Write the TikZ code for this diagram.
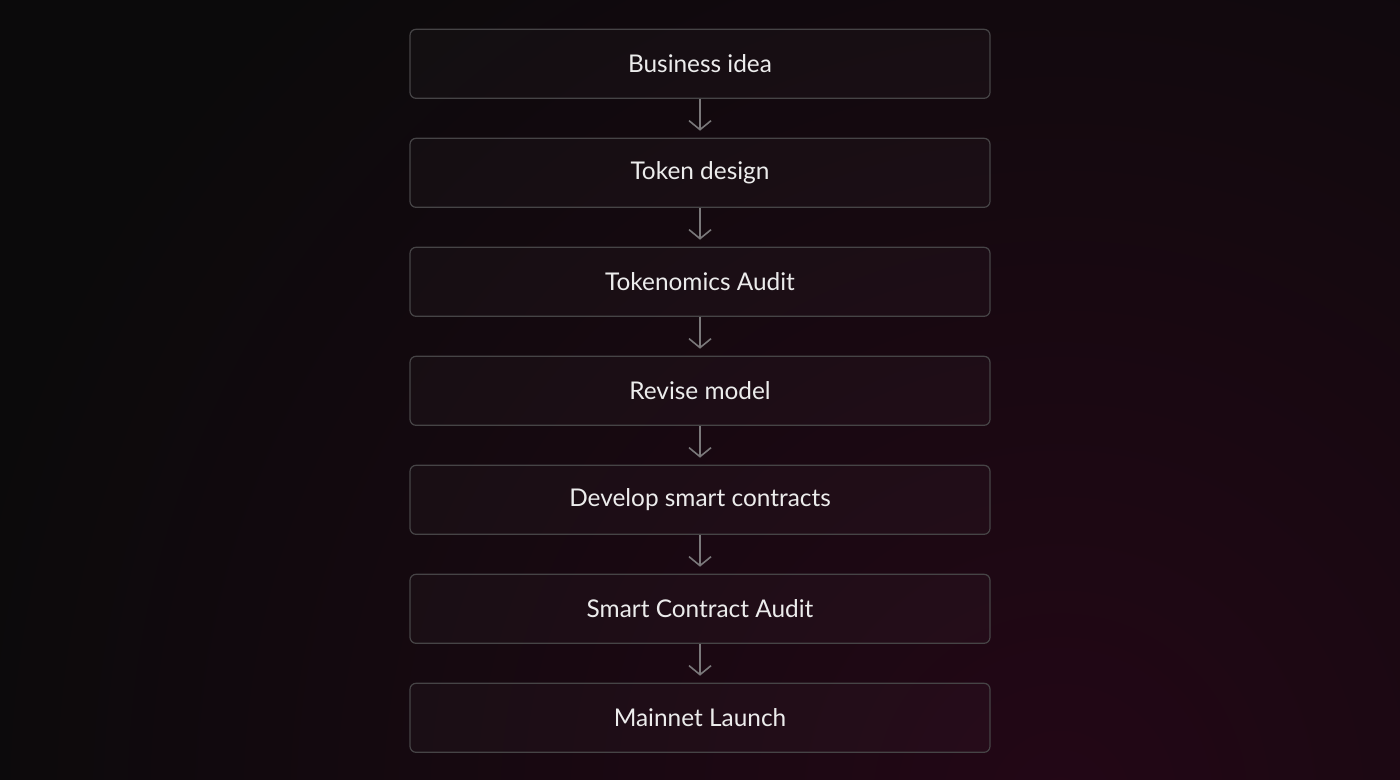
\documentclass[tikz,border=0pt]{standalone}
\usepackage{fontspec}
\setmainfont{Lato}
\usepackage{xcolor}
\usepackage{tikz}
\usetikzlibrary{positioning,arrows.meta}

\definecolor{bgdark}{HTML}{0B0A0B}
\definecolor{bgglow}{HTML}{230716}
\definecolor{boxline}{HTML}{464446}
\definecolor{flowgray}{HTML}{7A787A}
\definecolor{labeltext}{HTML}{ECECEC}

\tikzset{
    stage/.style={draw=boxline, line width=0.6pt, fill=white, fill opacity=0.025,
        draw opacity=1, text opacity=1, rounded corners=3pt,
        minimum width=290pt, minimum height=34.5pt, inner sep=0pt,
        text=labeltext, font=\fontsize{12.2}{14}\selectfont},
    flow/.style={draw=flowgray, line width=0.8pt, shorten >=3.5pt,
        -{Straight Barb[length=4.5pt, width=11pt, line width=0.8pt]}}
}

\begin{document}
\begin{tikzpicture}[node distance=19.4pt]
    % Background
    \useasboundingbox (0,0) rectangle (700pt,-390pt);
    \begin{scope}
        \clip (0,0) rectangle (700pt,-390pt);
        \fill[bgdark] (0,0) rectangle (700pt,-390pt);
        \shade[inner color=bgglow, outer color=bgdark] (530pt,-400pt) circle (560pt);
    \end{scope}

    % Stages
    \node[stage] (idea) at (350pt,-31.9pt) {Business idea};
    \node[stage, below=of idea] (design) {Token design};
    \node[stage, below=of design] (tokaudit) {Tokenomics Audit};
    \node[stage, below=of tokaudit] (revise) {Revise model};
    \node[stage, below=of revise] (develop) {Develop smart contracts};
    \node[stage, below=of develop] (scaudit) {Smart Contract Audit};
    \node[stage, below=of scaudit] (launch) {Mainnet Launch};

    % Arrows
    \foreach \a/\b in {idea/design, design/tokaudit, tokaudit/revise, revise/develop,
        develop/scaudit, scaudit/launch}
        \draw[flow] (\a) -- (\b);
\end{tikzpicture}
\end{document}
